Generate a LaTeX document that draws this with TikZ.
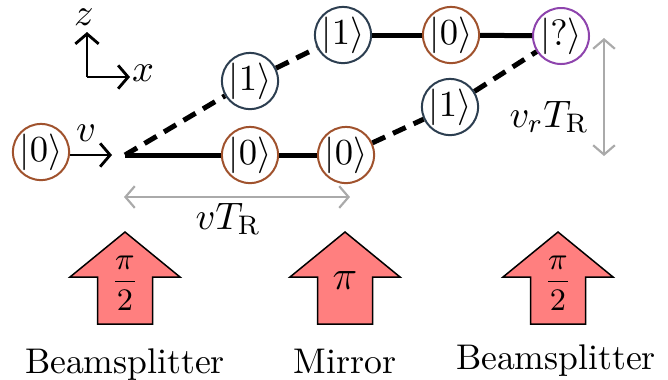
\RequirePackage{fix-cm}
\documentclass[tikz,border=0pt]{standalone}
\usetikzlibrary{arrows.meta}
\definecolor{brn}{HTML}{A0522D}
\definecolor{dk}{HTML}{2C3E50}
\definecolor{pur}{HTML}{8E44AD}
\definecolor{salm}{HTML}{FF7F7F}
\definecolor{gry}{HTML}{AAAAAA}
\begin{document}
\begin{tikzpicture}[x=0.3pt,y=-0.3pt,
  ket/.style={circle,draw,line width=0.6pt,fill=white,minimum size=16.8pt,inner sep=0pt,font=\fontsize{11}{12}\selectfont},
  k0/.style={ket,draw=brn}, k1/.style={ket,draw=dk}, kq/.style={ket,draw=pur},
  beam/.style={line width=1.5pt}, dbeam/.style={beam,dash pattern=on 4.2pt off 2.6pt},
  axis/.style={line width=0.85pt,-{Straight Barb[length=3pt,width=7pt]}},
  span/.style={gry,line width=0.65pt,{Straight Barb[length=2.8pt,width=6.5pt]}-{Straight Barb[length=2.8pt,width=6.5pt]}},
  lbl/.style={font=\fontsize{11.5}{13}\selectfont,inner sep=0pt},
  txt/.style={font=\fontsize{10.7}{12}\selectfont,anchor=base,inner sep=0pt},
  blockarrow/.pic={\path[draw=black,line width=0.45pt,fill=salm,line join=miter]
     (0,0) -- (55,45) -- (27.5,45) -- (27.5,92) -- (-27.5,92) -- (-27.5,45) -- (-55,45) -- cycle;}]
\useasboundingbox (0,0) rectangle (668,379);
% axes
\coordinate (O) at (87,77);
\coordinate (zt) at (87,32);
\coordinate (xt) at (130,77);
\draw[axis] (O) -- (zt);
\draw[axis] (O) -- (xt);
\node[lbl] (zl) at (84,17) {$z$};
\node[lbl] (xl) at (143,73) {$x$};
% states
\node[k0] (L0) at (41,152) {$|0\rangle$};
\coordinate (BS) at (125,155);
\coordinate (vin) at (112,155);
\node[k1] (D1) at (250,81) {$|1\rangle$};
\node[k1] (T1) at (343,35) {$|1\rangle$};
\node[k0] (T0) at (451,35) {$|0\rangle$};
\node[kq] (Q) at (561,36) {$|?\rangle$};
\node[k0] (A0) at (250,155) {$|0\rangle$};
\node[k0] (B0) at (346,155) {$|0\rangle$};
\node[k1] (E1) at (450,107) {$|1\rangle$};
% input
\draw[axis] (L0.east |- vin) -- (vin);
\node[lbl] (vl) at (86,133) {$v$};
% beams
\draw[beam] (BS) -- (A0);
\draw[beam] (A0) -- (B0);
\draw[dbeam] (BS) -- (D1);
\draw[dbeam] (D1) -- (T1);
\draw[beam] (T1) -- (T0);
\draw[beam] (T0) -- (Q);
\draw[dbeam] (B0) -- (E1);
\draw[dbeam] (E1) -- (Q);
% spans
\coordinate (h1) at (124,197);
\coordinate (h2) at (350,197);
\draw[span] (h1) -- (h2);
\node[lbl] (hl) at (228,219) {$vT_{\mathrm{R}}$};
\coordinate (v1) at (604,38);
\coordinate (v2) at (604,156);
\draw[span] (v1) -- (v2);
\node[lbl] (vrl) at (549,117) {$v_rT_{\mathrm{R}}$};
% block arrows
\pic at (125,232) {blockarrow};
\pic at (345,232) {blockarrow};
\pic at (558,232) {blockarrow};
\node[font=\fontsize{9.4}{10}\selectfont] (p1) at (125,283) {$\displaystyle\frac{\pi}{2}$};
\node[font=\fontsize{12.5}{13}\selectfont] (p2) at (345,281) {$\pi$};
\node[font=\fontsize{9.4}{10}\selectfont] (p3) at (558,283) {$\displaystyle\frac{\pi}{2}$};
\node[txt] (t1) at (125,373) {Beamsplitter};
\node[txt] (t2) at (345,373) {Mirror};
\node[txt] (t3) at (556,369) {Beamsplitter};
\end{tikzpicture}
\end{document}
